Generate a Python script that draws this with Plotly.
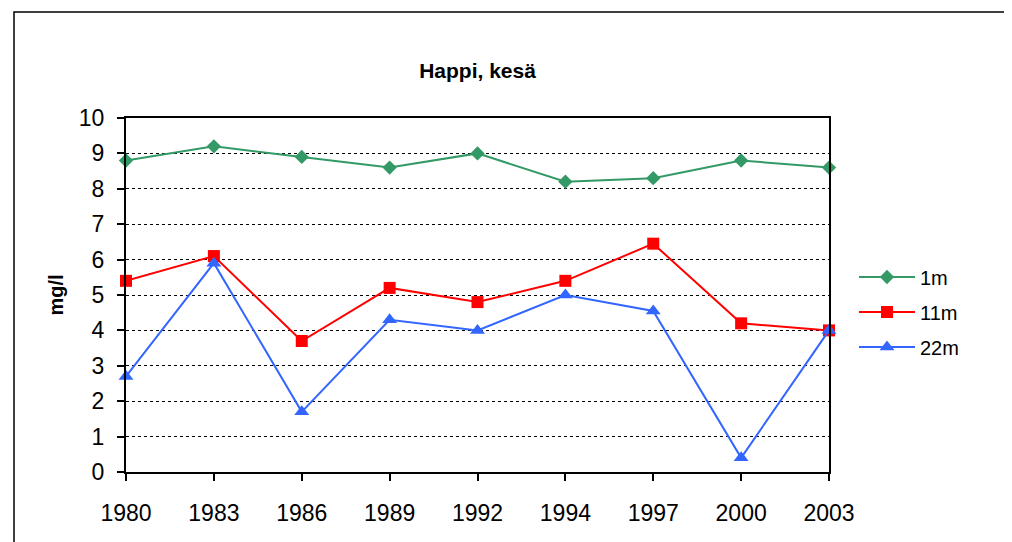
import plotly.graph_objects as go

years = ['1980', '1983', '1986', '1989', '1992', '1994', '1997', '2000', '2003']
happi_1m = [8.8, 9.2, 8.9, 8.6, 9.0, 8.2, 8.3, 8.8, 8.6]
happi_11m = [5.4, 6.1, 3.7, 5.2, 4.8, 5.4, 6.45, 4.2, 4.0]
happi_22m = [2.7, 5.9, 1.7, 4.3, 4.0, 5.0, 4.55, 0.4, 4.0]

font_name = 'Liberation Sans, Arial, sans-serif'

fig_w, fig_h = 1012, 542
# plot area in px inside the figure (the page adds an 8px body margin)
left, right, top, bottom = 118, 821, 110, 464
pw = right - left
ph = bottom - top

fig = go.Figure()

fig.add_trace(go.Scatter(
    x=years, y=happi_1m, name='1m', mode='lines+markers',
    line=dict(color='#339966', width=2),
    marker=dict(symbol='diamond', size=11, color='#339966'),
    cliponaxis=False, legendgroup='a'
))
fig.add_trace(go.Scatter(
    x=years, y=happi_11m, name='11m', mode='lines+markers',
    line=dict(color='#ff0000', width=2),
    marker=dict(symbol='square', size=12, color='#ff0000'),
    cliponaxis=False, legendgroup='b'
))
fig.add_trace(go.Scatter(
    x=years, y=happi_22m, name='22m', mode='lines+markers',
    line=dict(color='#3366ff', width=2),
    marker=dict(symbol='triangle-up', size=13, color='#3366ff'),
    cliponaxis=False, legendgroup='c'
))

# outer chart border: left and top only, ending at the figure edges
bx0 = (6 - left) / pw
by1 = (bottom - 4) / ph
bx1 = (fig_w - left) / pw
by0 = (bottom - fig_h) / ph
border = f'M {bx1},{by1} L {bx0},{by1} L {bx0},{by0}'

fig.update_layout(
    width=fig_w,
    height=fig_h,
    margin=dict(l=left, r=fig_w - right, t=top, b=fig_h - bottom),
    plot_bgcolor='white',
    paper_bgcolor='white',
    font=dict(family=font_name, size=20, color='black'),
    title=dict(
        text='<b>Happi, kesä</b>',
        xref='paper', x=0.5, xanchor='center',
        y=1 - 63 / fig_h, yanchor='middle',
        font=dict(size=21, color='black')
    ),
    legend=dict(
        x=(846 - left) / pw, xanchor='left',
        y=(bottom - 304) / ph, yanchor='middle',
        font=dict(size=20),
        itemwidth=56,
        tracegroupgap=6,
        bgcolor='rgba(0,0,0,0)'
    ),
    shapes=[dict(
        type='path', xref='paper', yref='paper',
        path=border,
        line=dict(color='black', width=1.5),
        layer='below'
    )]
)

fig.update_xaxes(
    type='category',
    range=[0, 8],
    showgrid=False,
    showline=True, linecolor='black', linewidth=2, mirror=True,
    ticks='outside', ticklen=7, tickcolor='black', tickwidth=1.5,
    tickfont=dict(size=23),
    ticklabelstandoff=12,
    zeroline=False
)

fig.update_yaxes(
    range=[0, 10],
    dtick=1,
    showgrid=True, gridcolor='black', griddash='dot', gridwidth=1.2,
    showline=True, linecolor='black', linewidth=2, mirror=True,
    ticks='outside', ticklen=7, tickcolor='black', tickwidth=1.5,
    tickfont=dict(size=23),
    ticklabelstandoff=8,
    zeroline=False,
    title=dict(text='<b>mg/l</b>', font=dict(size=20), standoff=10)
)

fig.write_html("out.html")
